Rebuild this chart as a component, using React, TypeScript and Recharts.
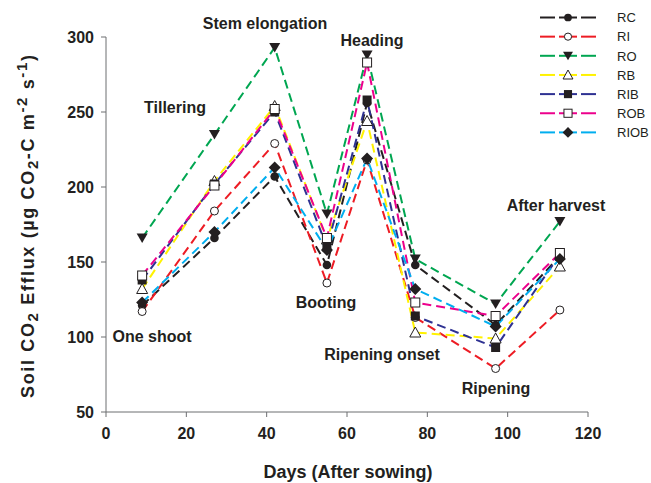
import React from 'react';
import { LineChart, Line, XAxis, YAxis } from 'recharts';

const days = [9, 27, 42, 55, 65, 77, 97, 113];
const rcValues = [121, 166, 207, 148, 256, 148, 108, 154];
const riValues = [117, 184, 229, 136, 218, 113, 79, 118];
const roValues = [166, 235, 293, 182, 288, 152, 122, 177];
const rbValues = [132, 204, 254, 165, 244, 103, 99, 147];
const ribValues = [138, 202, 250, 160, 258, 114, 93, 155];
const robValues = [141, 201, 252, 166, 283, 123, 114, 156];
const riobValues = [123, 170, 213, 158, 219, 132, 107, 152];

const xTicks = [0, 20, 40, 60, 80, 100, 120];
const yTicks = [50, 100, 150, 200, 250, 300];

const seriesNames = ['RC', 'RI', 'RO', 'RB', 'RIB', 'ROB', 'RIOB'];
const seriesValues = [rcValues, riValues, roValues, rbValues, ribValues, robValues, riobValues];
const seriesColors = ['#231f20', '#ed1c24', '#00a651', '#fff200', '#2e3192', '#ec008c', '#00aeef'];
const seriesMarkers = ['circle', 'circleOpen', 'triDown', 'triUpOpen', 'square', 'squareOpen', 'diamond'];

const stages = [
  { text: 'One shoot', x: 152, y: 342 },
  { text: 'Tillering', x: 175, y: 113 },
  { text: 'Stem elongation', x: 265, y: 29 },
  { text: 'Heading', x: 372, y: 46 },
  { text: 'Booting', x: 326, y: 308 },
  { text: 'Ripening onset', x: 382, y: 360 },
  { text: 'Ripening', x: 496, y: 394 },
  { text: 'After harvest', x: 556, y: 211 },
];

const data = days.map((d, i) => {
  const row: Record<string, number> = { day: d };
  seriesNames.forEach((n, k) => {
    row[n] = seriesValues[k][i];
  });
  return row;
});

const INK = '#231f20';
const FONT = '"Liberation Sans", Arial, Helvetica, sans-serif';

function markerShape(type: string, cx: number, cy: number, s: number, key?: string) {
  const fillDark = INK;
  switch (type) {
    case 'circle':
      return <circle key={key} cx={cx} cy={cy} r={4.3 * s} fill={fillDark} />;
    case 'circleOpen':
      return <circle key={key} cx={cx} cy={cy} r={4 * s} fill="#fff" stroke={fillDark} strokeWidth={1} />;
    case 'triDown':
      return (
        <path
          key={key}
          d={`M${cx - 5.5 * s},${cy - 4.5 * s} L${cx + 5.5 * s},${cy - 4.5 * s} L${cx},${cy + 5 * s} Z`}
          fill={fillDark}
        />
      );
    case 'triUpOpen':
      return (
        <path
          key={key}
          d={`M${cx},${cy - 5.5 * s} L${cx + 5.5 * s},${cy + 4.5 * s} L${cx - 5.5 * s},${cy + 4.5 * s} Z`}
          fill="#fff"
          stroke={fillDark}
          strokeWidth={1}
        />
      );
    case 'square':
      return <rect key={key} x={cx - 4.5 * s} y={cy - 4.5 * s} width={9 * s} height={9 * s} fill={fillDark} />;
    case 'squareOpen':
      return (
        <rect
          key={key}
          x={cx - 4.5 * s}
          y={cy - 4.5 * s}
          width={9 * s}
          height={9 * s}
          fill="#fff"
          stroke={fillDark}
          strokeWidth={1}
        />
      );
    case 'diamond':
    default:
      return (
        <path
          key={key}
          d={`M${cx},${cy - 6 * s} L${cx + 6 * s},${cy} L${cx},${cy + 6 * s} L${cx - 6 * s},${cy} Z`}
          fill={fillDark}
        />
      );
  }
}

const legendTop = 17.5;
const legendStep = 19.15;

export default function App() {
  return (
    <div style={{ position: 'absolute', left: 0, top: 0, width: 651, height: 483, background: '#fff' }}>
      <LineChart
        width={651}
        height={483}
        data={data}
        margin={{ top: 37, right: 63, left: 0, bottom: 0 }}
      >
        <XAxis
          type="number"
          dataKey="day"
          domain={[0, 120]}
          ticks={xTicks}
          interval={0}
          height={71}
          tickSize={5}
          tickMargin={11}
          axisLine={{ stroke: '#6d6e71', strokeWidth: 1 }}
          tickLine={{ stroke: '#6d6e71', strokeWidth: 1 }}
          tick={{ fill: INK, fontSize: 16, fontWeight: 'bold', fontFamily: FONT }}
        />
        <YAxis
          type="number"
          domain={[50, 300]}
          ticks={yTicks}
          interval={0}
          width={106}
          tickSize={5}
          tickMargin={7}
          axisLine={{ stroke: '#6d6e71', strokeWidth: 1 }}
          tickLine={{ stroke: '#6d6e71', strokeWidth: 1 }}
          tick={{ fill: INK, fontSize: 16, fontWeight: 'bold', fontFamily: FONT }}
        />
        {seriesNames.map((n, k) => (
          <Line
            key={`line-${n}`}
            type="linear"
            dataKey={n}
            stroke={seriesColors[k]}
            strokeWidth={2}
            strokeDasharray="9 5"
            dot={false}
            activeDot={false}
            isAnimationActive={false}
          />
        ))}
        {seriesNames.map((n, k) => (
          <Line
            key={`dots-${n}`}
            type="linear"
            dataKey={n}
            stroke="none"
            strokeWidth={0}
            legendType="none"
            activeDot={false}
            isAnimationActive={false}
            dot={(props: any) =>
              markerShape(seriesMarkers[k], props.cx, props.cy, 1, `m-${n}-${props.index}`)
            }
          />
        ))}
      </LineChart>
      <svg
        width={651}
        height={483}
        style={{ position: 'absolute', left: 0, top: 0, pointerEvents: 'none' }}
      >
        {stages.map((s) => (
          <text
            key={s.text}
            x={s.x}
            y={s.y}
            textAnchor="middle"
            fontFamily={FONT}
            fontWeight="bold"
            fontSize={16}
            fill={INK}
          >
            {s.text}
          </text>
        ))}
        {seriesNames.map((n, k) => {
          const y = legendTop + k * legendStep;
          return (
            <g key={`leg-${n}`}>
              <line x1={540} y1={y} x2={555} y2={y} stroke={seriesColors[k]} strokeWidth={2} />
              <line x1={559} y1={y} x2={577} y2={y} stroke={seriesColors[k]} strokeWidth={2} />
              <line x1={581} y1={y} x2={596} y2={y} stroke={seriesColors[k]} strokeWidth={2} />
              {markerShape(seriesMarkers[k], 568, y, 0.9)}
              <text x={617} y={y + 4.7} fontFamily={FONT} fontSize={13} fill={INK}>
                {n}
              </text>
            </g>
          );
        })}
        <text
          x={348}
          y={478}
          textAnchor="middle"
          fontFamily={FONT}
          fontWeight="bold"
          fontSize={18}
          fill={INK}
        >
          Days (After sowing)
        </text>
        <text
          x={33.5}
          y={226.5}
          transform="rotate(-90, 33.5, 226.5)"
          textAnchor="middle"
          fontFamily={FONT}
          fontWeight="bold"
          fontSize={18}
          fill={INK}
          textLength={343}
          lengthAdjust="spacing"
        >
          <tspan>Soil CO</tspan>
          <tspan dy={4} fontSize={15}>2</tspan>
          <tspan dy={-4}> Efflux (µg CO</tspan>
          <tspan dy={4} fontSize={15}>2</tspan>
          <tspan dy={-4}>-C m</tspan>
          <tspan dy={-7} fontSize={15}>-2</tspan>
          <tspan dy={7}> s</tspan>
          <tspan dy={-7} fontSize={15}>-1</tspan>
          <tspan dy={7}>)</tspan>
        </text>
      </svg>
    </div>
  );
}
